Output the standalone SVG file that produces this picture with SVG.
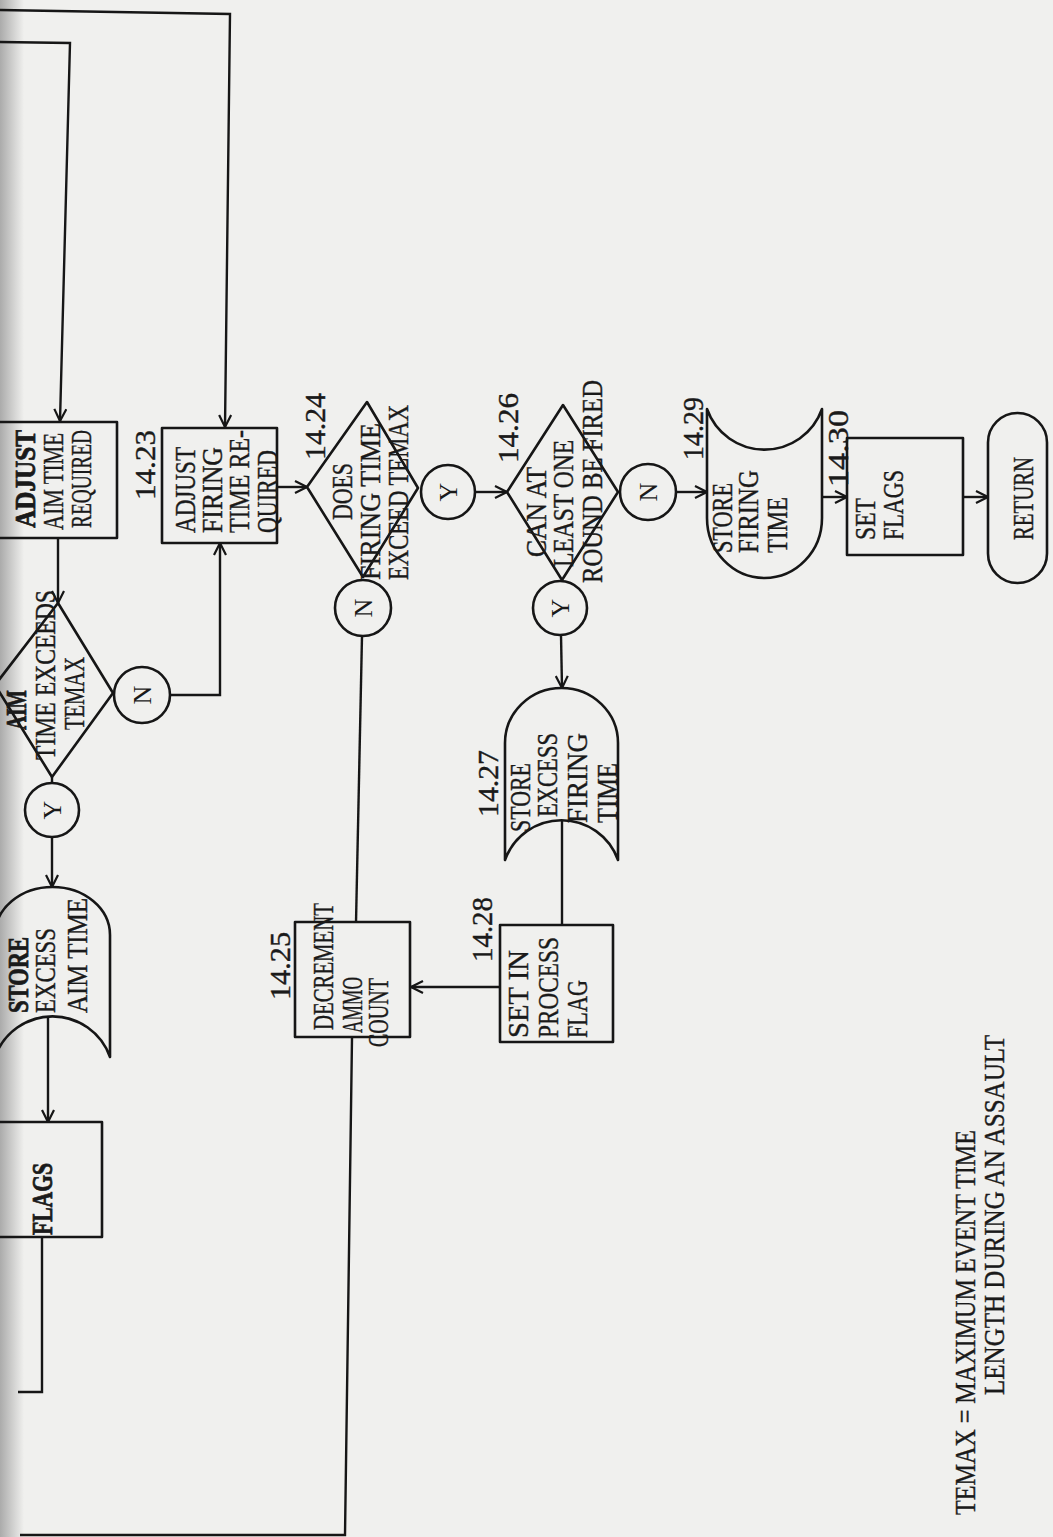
<svg xmlns="http://www.w3.org/2000/svg" width="1053" height="1537" viewBox="0 0 1053 1537">
<style>
.bg{fill:#f0f0ee}
.s{fill:none;stroke:#161616;stroke-width:2.6;stroke-linejoin:round}
.c{fill:none;stroke:#161616;stroke-width:2.4}
.t{font-family:"Liberation Serif","Times New Roman",serif;font-size:23px;fill:#1a1a1a;stroke:#1a1a1a;stroke-width:0.3}
.b{font-family:"Liberation Serif","Times New Roman",serif;font-weight:bold;stroke-width:0.6}
.l{font-family:"Liberation Serif","Times New Roman",serif;font-size:26px;fill:#1a1a1a;text-anchor:middle}
</style>
<defs>
<marker id="a" viewBox="0 0 14 14" refX="13" refY="7" markerWidth="14" markerHeight="14" markerUnits="userSpaceOnUse" orient="auto">
<path d="M1,1 L13,7 L1,13" fill="none" stroke="#161616" stroke-width="2.2"/>
</marker>
<linearGradient id="edge" x1="0" y1="0" x2="1" y2="0">
<stop offset="0" stop-color="#9a9a9a" stop-opacity="0.8"/>
<stop offset="1" stop-color="#9a9a9a" stop-opacity="0"/>
</linearGradient>
</defs>
<rect class="bg" x="0" y="0" width="1053" height="1537"/>
<rect x="0" y="0" width="24" height="1537" fill="url(#edge)"/>

<g id="connectors">
<path class="c" d="M0,10 L230,14 L225,427" marker-end="url(#a)"/>
<path class="c" d="M0,42 L70,43 L60,421" marker-end="url(#a)"/>
<path class="c" d="M58,538 L58,603" marker-end="url(#a)"/>
<path class="c" d="M170,695 L220,695 L220,543" marker-end="url(#a)"/>
<path class="c" d="M52,777 L52,783"/>
<path class="c" d="M52,837 L52,887" marker-end="url(#a)"/>
<path class="c" d="M48,1017 L48,1122" marker-end="url(#a)"/>
<path class="c" d="M42,1237 L42,1392 L18,1392"/>
<path class="c" d="M277,487 L307,487" marker-end="url(#a)"/>
<path class="c" d="M475,492 L507,492" marker-end="url(#a)"/>
<path class="c" d="M362,636 L356,923"/>
<path class="c" d="M676,492 L707,492" marker-end="url(#a)"/>
<path class="c" d="M561,635 L562,688" marker-end="url(#a)"/>
<path class="c" d="M562,820 L562,925"/>
<path class="c" d="M500,987 L411,987" marker-end="url(#a)"/>
<path class="c" d="M352,1038 L345,1535 L20,1535"/>
<path class="c" d="M822,497 L847,497" marker-end="url(#a)"/>
<path class="c" d="M963,497 L988,497" marker-end="url(#a)"/>
</g>

<g id="n1422-adjust-aim">
<rect class="s" x="-4" y="422" width="121" height="116"/>
<text class="t b" transform="translate(34.5,528) rotate(-90) scale(1,1.3)" textLength="98" lengthAdjust="spacingAndGlyphs">ADJUST</text>
<text class="t" transform="translate(62.5,530) rotate(-90) scale(1,1.3)" textLength="97" lengthAdjust="spacingAndGlyphs">AIM TIME</text>
<text class="t" transform="translate(90.5,528) rotate(-90) scale(1,1.3)" textLength="98" lengthAdjust="spacingAndGlyphs">REQUIRED</text>
</g>

<g id="n1423-adjust-firing">
<text class="t" transform="translate(154.5,500) rotate(-90) scale(1,1.3)" textLength="70" lengthAdjust="spacingAndGlyphs">14.23</text>
<rect class="s" x="162" y="428" width="115" height="115"/>
<text class="t" transform="translate(194.5,533) rotate(-90) scale(1,1.3)" textLength="86" lengthAdjust="spacingAndGlyphs">ADJUST</text>
<text class="t" transform="translate(221.5,533) rotate(-90) scale(1,1.3)" textLength="86" lengthAdjust="spacingAndGlyphs">FIRING</text>
<text class="t" transform="translate(248.5,533) rotate(-90) scale(1,1.3)" textLength="103" lengthAdjust="spacingAndGlyphs">TIME RE-</text>
<text class="t" transform="translate(276.5,533) rotate(-90) scale(1,1.3)" textLength="83" lengthAdjust="spacingAndGlyphs">QUIRED</text>
</g>

<g id="d-aim-exceeds">
<polygon class="s" points="58,603 113,693 52,777 -5,685"/>
<text class="t b" transform="translate(25.5,730) rotate(-90) scale(1,1.3)" textLength="40" lengthAdjust="spacingAndGlyphs">AIM</text>
<text class="t" transform="translate(54.5,760) rotate(-90) scale(1,1.3)" textLength="170" lengthAdjust="spacingAndGlyphs">TIME EXCEEDS</text>
<text class="t" transform="translate(83.5,730) rotate(-90) scale(1,1.3)" textLength="73" lengthAdjust="spacingAndGlyphs">TEMAX</text>
</g>

<g id="c-n1">
<circle class="s" cx="142" cy="695" r="28"/>
<text class="l" transform="translate(151,695) rotate(-90)">N</text>
</g>
<g id="c-y1">
<circle class="s" cx="52" cy="810" r="27"/>
<text class="l" transform="translate(61,810) rotate(-90)">Y</text>
</g>

<g id="store-excess-aim">
<path class="s" d="M-5,1057 L-5,935 A57.5,48 0 0 1 110,935 L110,1057 A61,61 0 0 0 -5,1057 Z"/>
<text class="t b" transform="translate(28,1013) rotate(-90) scale(1,1.3)" textLength="76" lengthAdjust="spacingAndGlyphs">STORE</text>
<text class="t" transform="translate(54.5,1013) rotate(-90) scale(1,1.3)" textLength="85" lengthAdjust="spacingAndGlyphs">EXCESS</text>
<text class="t" transform="translate(86.5,1013) rotate(-90) scale(1,1.3)" textLength="115" lengthAdjust="spacingAndGlyphs">AIM TIME</text>
</g>

<g id="set-flags-left">
<rect class="s" x="-5" y="1122" width="107" height="115"/>
<text class="t b" transform="translate(51.5,1235) rotate(-90) scale(1,1.3)" textLength="72" lengthAdjust="spacingAndGlyphs">FLAGS</text>
</g>

<g id="n1424">
<text class="t" transform="translate(324.5,460) rotate(-90) scale(1,1.3)" textLength="67" lengthAdjust="spacingAndGlyphs">14.24</text>
<polygon class="s" points="307,487 367,402 418,488 363,577"/>
<text class="t" transform="translate(351.5,520) rotate(-90) scale(1,1.3)" textLength="57" lengthAdjust="spacingAndGlyphs">DOES</text>
<text class="t" transform="translate(379.5,580) rotate(-90) scale(1,1.3)" textLength="157" lengthAdjust="spacingAndGlyphs">FIRING TIME</text>
<text class="t" transform="translate(407.5,580) rotate(-90) scale(1,1.3)" textLength="175" lengthAdjust="spacingAndGlyphs">EXCEED TEMAX</text>
</g>

<g id="c-y2">
<circle class="s" cx="448" cy="492" r="27"/>
<text class="l" transform="translate(457,492) rotate(-90)">Y</text>
</g>
<g id="c-n2">
<circle class="s" cx="363" cy="608" r="28"/>
<text class="l" transform="translate(372,608) rotate(-90)">N</text>
</g>

<g id="n1426">
<text class="t" transform="translate(517.5,463) rotate(-90) scale(1,1.3)" textLength="70" lengthAdjust="spacingAndGlyphs">14.26</text>
<polygon class="s" points="507,492 563,405 618,492 562,580"/>
<text class="t" transform="translate(545.5,557) rotate(-90) scale(1,1.3)" textLength="90" lengthAdjust="spacingAndGlyphs">CAN AT</text>
<text class="t" transform="translate(572.5,567) rotate(-90) scale(1,1.3)" textLength="127" lengthAdjust="spacingAndGlyphs">LEAST ONE</text>
<text class="t" transform="translate(601.5,583) rotate(-90) scale(1,1.3)" textLength="203" lengthAdjust="spacingAndGlyphs">ROUND BE FIRED</text>
</g>

<g id="c-n3">
<circle class="s" cx="648" cy="492" r="28"/>
<text class="l" transform="translate(657,492) rotate(-90)">N</text>
</g>
<g id="c-y3">
<circle class="s" cx="560" cy="608" r="27"/>
<text class="l" transform="translate(569,608) rotate(-90)">Y</text>
</g>

<g id="n1427">
<text class="t" transform="translate(497.5,817) rotate(-90) scale(1,1.3)" textLength="67" lengthAdjust="spacingAndGlyphs">14.27</text>
<path class="s" d="M505,860 L505,743 A56.5,55 0 0 1 618,743 L618,860 A60,60 0 0 0 505,860 Z"/>
<text class="t" transform="translate(529.5,832) rotate(-90) scale(1,1.3)" textLength="69" lengthAdjust="spacingAndGlyphs">STORE</text>
<text class="t" transform="translate(556.5,817) rotate(-90) scale(1,1.3)" textLength="84" lengthAdjust="spacingAndGlyphs">EXCESS</text>
<text class="t" transform="translate(586.5,823) rotate(-90) scale(1,1.3)" textLength="90" lengthAdjust="spacingAndGlyphs">FIRING</text>
<text class="t" transform="translate(616.5,823) rotate(-90) scale(1,1.3)" textLength="60" lengthAdjust="spacingAndGlyphs">TIME</text>
</g>

<g id="n1428">
<text class="t" transform="translate(491.5,962) rotate(-90) scale(1,1.3)" textLength="65" lengthAdjust="spacingAndGlyphs">14.28</text>
<rect class="s" x="500" y="925" width="113" height="117"/>
<text class="t" transform="translate(527.5,1038) rotate(-90) scale(1,1.3)" textLength="88" lengthAdjust="spacingAndGlyphs">SET IN</text>
<text class="t" transform="translate(557.5,1038) rotate(-90) scale(1,1.3)" textLength="101" lengthAdjust="spacingAndGlyphs">PROCESS</text>
<text class="t" transform="translate(586.5,1038) rotate(-90) scale(1,1.3)" textLength="58" lengthAdjust="spacingAndGlyphs">FLAG</text>
</g>

<g id="n1425">
<text class="t" transform="translate(289.5,1000) rotate(-90) scale(1,1.3)" textLength="68" lengthAdjust="spacingAndGlyphs">14.25</text>
<rect class="s" x="295" y="922" width="115" height="115"/>
<text class="t" transform="translate(332.5,1030) rotate(-90) scale(1,1.3)" textLength="127" lengthAdjust="spacingAndGlyphs">DECREMENT</text>
<text class="t" transform="translate(361.5,1033) rotate(-90) scale(1,1.3)" textLength="56" lengthAdjust="spacingAndGlyphs">AMMO</text>
<text class="t" transform="translate(387.5,1047) rotate(-90) scale(1,1.3)" textLength="69" lengthAdjust="spacingAndGlyphs">COUNT</text>
</g>

<g id="n1429">
<text class="t" transform="translate(702.5,460) rotate(-90) scale(1,1.3)" textLength="63" lengthAdjust="spacingAndGlyphs">14.29</text>
<path class="s" d="M707,409 A61,61 0 0 0 822,409 L822,518 A57.5,60 0 0 1 707,518 Z"/>
<text class="t" transform="translate(731.5,553) rotate(-90) scale(1,1.3)" textLength="70" lengthAdjust="spacingAndGlyphs">STORE</text>
<text class="t" transform="translate(757.5,553) rotate(-90) scale(1,1.3)" textLength="83" lengthAdjust="spacingAndGlyphs">FIRING</text>
<text class="t" transform="translate(786.5,553) rotate(-90) scale(1,1.3)" textLength="56" lengthAdjust="spacingAndGlyphs">TIME</text>
</g>

<g id="n1430">
<text class="t" transform="translate(847.5,487) rotate(-90) scale(1,1.3)" textLength="77" lengthAdjust="spacingAndGlyphs">14.30</text>
<rect class="s" x="847" y="438" width="116" height="117"/>
<text class="t" transform="translate(874.5,540) rotate(-90) scale(1,1.3)" textLength="42" lengthAdjust="spacingAndGlyphs">SET</text>
<text class="t" transform="translate(902.5,540) rotate(-90) scale(1,1.3)" textLength="70" lengthAdjust="spacingAndGlyphs">FLAGS</text>
</g>

<g id="return">
<rect class="s" x="988" y="413" width="59" height="170" rx="29.5" ry="29.5"/>
<text class="t" transform="translate(1032.5,540) rotate(-90) scale(1,1.3)" textLength="83" lengthAdjust="spacingAndGlyphs">RETURN</text>
</g>

<g id="note">
<text class="t" transform="translate(974.5,1515) rotate(-90) scale(1,1.3)" textLength="385" lengthAdjust="spacingAndGlyphs">TEMAX = MAXIMUM EVENT TIME</text>
<text class="t" transform="translate(1003.5,1395) rotate(-90) scale(1,1.3)" textLength="360" lengthAdjust="spacingAndGlyphs">LENGTH DURING AN ASSAULT</text>
</g>
</svg>
